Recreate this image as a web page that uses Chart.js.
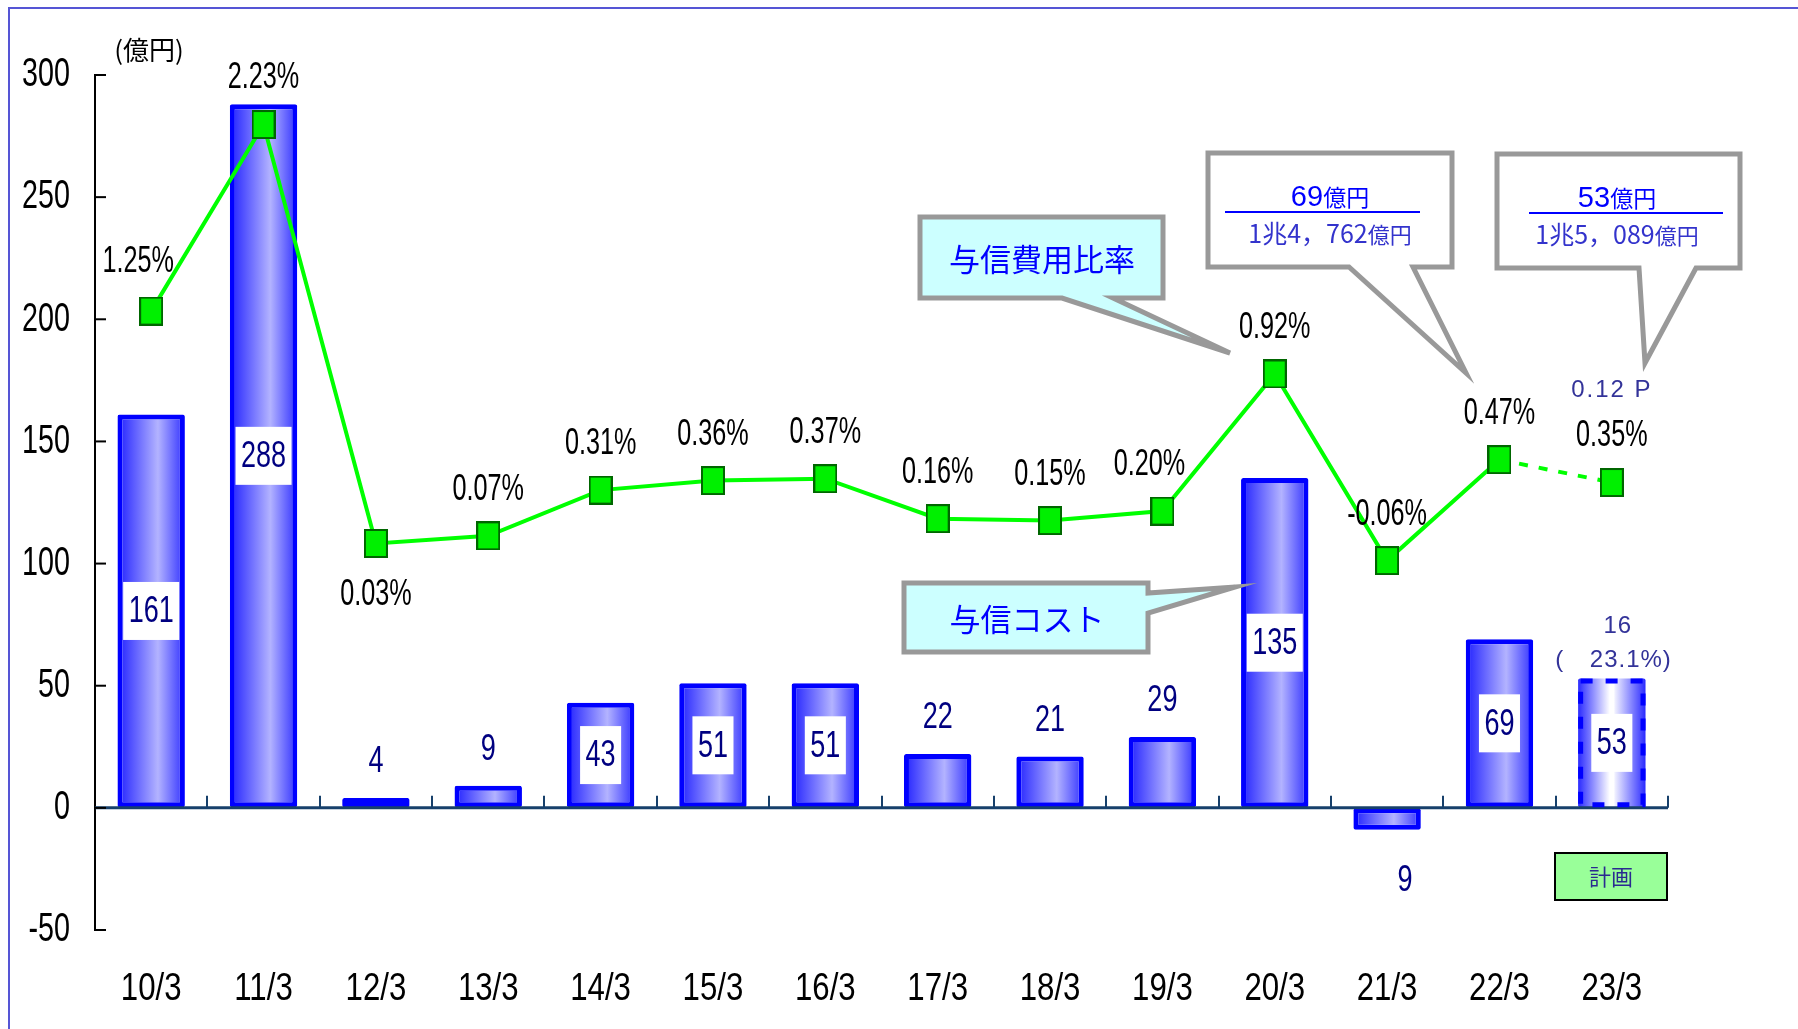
<!DOCTYPE html>
<html lang="ja">
<head>
<meta charset="utf-8">
<title>与信コスト・与信費用比率</title>
<script src="https://cdn.jsdelivr.net/npm/chart.js@4.4.1/dist/chart.umd.min.js"></script>
<style>
  html, body { margin: 0; padding: 0; background: #fff; }
  canvas { display: block; }
</style>
</head>
<body>
<canvas id="creditCostChart" width="1798" height="1029"></canvas>
<script>
// データ
const periods = ['10/3', '11/3', '12/3', '13/3', '14/3', '15/3', '16/3', '17/3', '18/3', '19/3', '20/3', '21/3', '22/3', '23/3'];
const creditCost = [161, 288, 4, 9, 43, 51, 51, 22, 21, 29, 135, -9, 69, 53];
const costLabels = ['161', '288', '4', '9', '43', '51', '51', '22', '21', '29', '135', '9', '69', '53'];
const costRatio = [1.25, 2.23, 0.03, 0.07, 0.31, 0.36, 0.37, 0.16, 0.15, 0.20, 0.92, -0.06, 0.47, 0.35];
const ratioLabels = ['1.25%', '2.23%', '0.03%', '0.07%', '0.31%', '0.36%', '0.37%', '0.16%', '0.15%', '0.20%', '0.92%', '-0.06%', '0.47%', '0.35%'];
const yTicks = [-50, 0, 50, 100, 150, 200, 250, 300];

// 吹き出しの文言
const unitLabel = '(億円)';
const ratioCallout = '与信費用比率';
const costCallout = '与信コスト';
const fraction2022 = ['69', '1兆4，762'];
const fraction2023 = ['53', '1兆5，089'];
const ratioDiff = '0.12 P';
const planShare = ['16', '23.1%)'];
const planLabel = '計画';

const planIndex = periods.length - 1;

const SANS = "'Liberation Sans', Arial, sans-serif";
const CJK = "'Noto Sans CJK JP', sans-serif";

// 細長い数字（横に詰める）
function narrowText(ctx, text, x, y, size, color, sx) {
    ctx.save();
    ctx.font = `${size}px ${SANS}`;
    ctx.fillStyle = color;
    ctx.textAlign = 'center';
    ctx.textBaseline = 'middle';
    ctx.translate(x, y);
    ctx.scale(sx, 1);
    ctx.fillText(text, 0, 0);
    ctx.restore();
}

// 文字列を複数フォントで並べて中央揃え
function drawRuns(ctx, runs, cx, cy, color) {
    ctx.save();
    let total = 0;
    runs.forEach(r => { ctx.font = r.font; r.w = ctx.measureText(r.text).width; total += r.w; });
    let x = cx - total / 2;
    ctx.fillStyle = color;
    ctx.textAlign = 'left';
    ctx.textBaseline = 'alphabetic';
    runs.forEach(r => {
        ctx.font = r.font;
        ctx.fillText(r.text, x, cy);
        x += r.w;
    });
    ctx.restore();
}

function calloutPath(ctx, pts, fill) {
    ctx.save();
    ctx.beginPath();
    ctx.moveTo(pts[0][0], pts[0][1]);
    for (let i = 1; i < pts.length; i++) ctx.lineTo(pts[i][0], pts[i][1]);
    ctx.closePath();
    ctx.fillStyle = fill;
    ctx.fill();
    ctx.lineWidth = 5;
    ctx.lineJoin = 'miter';
    ctx.strokeStyle = '#999999';
    ctx.stroke();
    ctx.restore();
}

// 棒のグラデーション
function barFill(c) {
    const chart = c.chart;
    const xs = chart.scales.x;
    if (!xs || !chart.chartArea) return '#8080ff';
    const cx = xs.getPixelForValue(c.dataIndex);
    const half = xs.width / periods.length * 0.6 / 2;
    const g = chart.ctx.createLinearGradient(cx - half, 0, cx + half, 0);
    if (c.dataIndex === planIndex) {
        g.addColorStop(0, '#2a2aff');
        g.addColorStop(0.47, '#ffffff');
        g.addColorStop(0.53, '#ffffff');
        g.addColorStop(0.55, '#eeeeff');
        g.addColorStop(1, '#2a2aff');
    } else {
        g.addColorStop(0, '#2020ff');
        g.addColorStop(0.6, '#b3b3ff');
        g.addColorStop(1, '#3030ff');
    }
    return g;
}

// 折れ線のマーカー
const marker = document.createElement('canvas');
marker.width = 24;
marker.height = 29;
(function () {
    const m = marker.getContext('2d');
    m.fillStyle = '#00f000';
    m.fillRect(1, 1, 22, 27);
    m.strokeStyle = '#006600';
    m.lineWidth = 2;
    m.strokeRect(1, 1, 22, 27);
})();

const tickSize = { x: 39, y: 41 };
const tickSqueeze = { x: 0.8, y: 0.7 };

const framePlugin = {
    id: 'frame',
    beforeDraw(chart) {
        const ctx = chart.ctx;
        ctx.save();
        ctx.fillStyle = '#fff';
        ctx.fillRect(0, 0, chart.width, chart.height);
        ctx.strokeStyle = '#5555d5';
        ctx.lineWidth = 2;
        ctx.beginPath();
        ctx.moveTo(9, chart.height);
        ctx.lineTo(9, 8);
        ctx.lineTo(chart.width, 8);
        ctx.stroke();
        ctx.restore();

        // 目盛ラベルを細字風に詰める
        ['x', 'y'].forEach(id => {
            const s = chart.scales[id];
            ctx.save();
            ctx.font = `${tickSize[id]}px ${SANS}`;
            s.getLabelItems(chart.chartArea).forEach(item => {
                item.options.maxWidth = ctx.measureText(item.label).width * tickSqueeze[id];
            });
            ctx.restore();
        });
    }
};

const decorPlugin = {
    id: 'decor',
    afterDatasetsDraw(chart) {
        const ctx = chart.ctx;
        const xs = chart.scales.x, ys = chart.scales.y;
        const area = chart.chartArea;
        const zeroY = ys.getPixelForValue(0);
        const step = xs.width / periods.length;

        // ゼロ線と区切り目盛
        ctx.save();
        ctx.strokeStyle = '#17406b';
        ctx.lineWidth = 3;
        ctx.beginPath();
        ctx.moveTo(area.left, zeroY);
        ctx.lineTo(area.right, zeroY);
        ctx.stroke();
        ctx.lineWidth = 2;
        for (let i = 1; i <= periods.length; i++) {
            const x = Math.round(area.left + step * i);
            ctx.beginPath();
            ctx.moveTo(x, zeroY);
            ctx.lineTo(x, zeroY - 12);
            ctx.stroke();
        }
        // 縦軸の目盛
        ctx.strokeStyle = '#000';
        ctx.lineWidth = 2;
        yTicks.forEach(v => {
            const y = ys.getPixelForValue(v);
            ctx.beginPath();
            ctx.moveTo(area.left, y);
            ctx.lineTo(area.left + 11, y);
            ctx.stroke();
        });
        ctx.restore();

        // 計画の棒は破線枠
        const bars = chart.getDatasetMeta(1).data;
        const pb = bars[planIndex];
        ctx.save();
        ctx.strokeStyle = '#0000ff';
        ctx.lineWidth = 5;
        ctx.setLineDash([12, 13]);
        ctx.strokeRect(pb.x - pb.width / 2 + 2.5, pb.y + 2.5, pb.width - 5, pb.base - pb.y - 5);
        ctx.restore();

        // 棒の数値
        bars.forEach((bar, i) => {
            const v = creditCost[i];
            const txt = costLabels[i];
            if (v >= 40) {
                const cy = (bar.y + bar.base) / 2;
                ctx.save();
                ctx.font = `37px ${SANS}`;
                const w = ctx.measureText(txt).width * 0.73 + 11;
                ctx.fillStyle = '#fff';
                ctx.fillRect(bar.x - w / 2, cy - 29, w, 58);
                ctx.restore();
                narrowText(ctx, txt, bar.x, cy + 1, 37, '#000080', 0.73);
            } else if (v >= 0) {
                narrowText(ctx, txt, bar.x, bar.y - 36, 37, '#000080', 0.73);
            } else {
                narrowText(ctx, txt, bar.x + 18, bar.y + 51, 37, '#000080', 0.73);
            }
        });

        // 比率の数値
        const pts = chart.getDatasetMeta(0).data;
        pts.forEach((p, i) => {
            let dx = 0, dy = -46;
            if (i === 2) dy = 52;
            if (i === 0) dy = -49;
            if (i === 0 || i === 9) dx = -13;
            narrowText(ctx, ratioLabels[i], p.x + dx, p.y + dy, 36, '#000', 0.7);
        });

        // 単位
        ctx.save();
        ctx.font = `26px ${CJK}`;
        ctx.fillStyle = '#000';
        ctx.textAlign = 'center';
        ctx.textBaseline = 'middle';
        ctx.fillText(unitLabel, 149, 50);
        ctx.restore();

        // 吹き出し：与信費用比率
        calloutPath(ctx, [[920, 217], [1163, 217], [1163, 298], [1113, 298], [1230, 353], [1062, 298], [920, 298]], '#ccffff');
        ctx.save();
        ctx.font = `31px ${CJK}`;
        ctx.fillStyle = '#0000ff';
        ctx.textAlign = 'center';
        ctx.textBaseline = 'middle';
        ctx.fillText(ratioCallout, 1042, 259);
        ctx.restore();

        // 吹き出し：与信コスト
        calloutPath(ctx, [[904, 583], [1148, 583], [1148, 593], [1235, 587], [1148, 613], [1148, 652], [904, 652]], '#ccffff');
        ctx.save();
        ctx.font = `31px ${CJK}`;
        ctx.fillStyle = '#0000ff';
        ctx.textAlign = 'center';
        ctx.textBaseline = 'middle';
        ctx.fillText(costCallout, 1027, 619);
        ctx.restore();

        // 吹き出し：分数
        const fractions = [
            { box: [1208, 153, 1452, 267], tail: [1349, 1413], tip: [1466, 373], cx: 1330, lx: [1225, 1420], f: fraction2022 },
            { box: [1497, 154, 1740, 268], tail: [1639, 1696], tip: [1645, 363], cx: 1617, lx: [1529, 1723], f: fraction2023 }
        ];
        fractions.forEach(o => {
            const [l, t, r, b] = o.box;
            calloutPath(ctx, [[l, t], [r, t], [r, b], [o.tail[1], b], o.tip, [o.tail[0], b], [l, b]], '#ffffff');
            drawRuns(ctx, [
                { text: o.f[0], font: `29px ${SANS}` },
                { text: '億円', font: `23px ${CJK}` }
            ], o.cx, t + 53, '#0000ff');
            ctx.save();
            ctx.strokeStyle = '#0000ff';
            ctx.lineWidth = 2;
            ctx.beginPath();
            ctx.moveTo(o.lx[0], t + 59);
            ctx.lineTo(o.lx[1], t + 59);
            ctx.stroke();
            ctx.restore();
            drawRuns(ctx, [
                { text: o.f[1], font: `25px ${CJK}` },
                { text: '億円', font: `22px ${CJK}` }
            ], o.cx, t + 90, '#3333cc');
        });

        // 差分・計画
        const px = xs.getPixelForValue(planIndex);
        ctx.save();
        ctx.fillStyle = '#333399';
        ctx.textAlign = 'center';
        ctx.textBaseline = 'middle';
        ctx.font = `24px ${SANS}`;
        ctx.letterSpacing = '2px';
        ctx.fillText(ratioDiff, px, 390);
        ctx.letterSpacing = '1px';
        ctx.fillText(planShare[0], px + 6, 626);
        ctx.fillText(planShare[1], px + 19, 660);
        ctx.fillText('(', px - 52, 660);
        ctx.letterSpacing = '0px';
        // 計画ラベル
        ctx.fillStyle = '#99ff99';
        ctx.fillRect(1555, 853, 112, 47);
        ctx.strokeStyle = '#000';
        ctx.lineWidth = 2;
        ctx.strokeRect(1555, 853, 112, 47);
        ctx.fillStyle = '#2a2a90';
        ctx.font = `22px ${CJK}`;
        ctx.fillText(planLabel, 1611, 877);
        ctx.restore();
    }
};

const ctx = document.getElementById('creditCostChart').getContext('2d');

new Chart(ctx, {
    data: {
        labels: periods,
        datasets: [
            {
                type: 'line',
                label: '与信費用比率',
                data: costRatio,
                yAxisID: 'y2',
                borderColor: '#00ff00',
                borderWidth: 4,
                tension: 0,
                pointStyle: marker,
                pointRadius: 12,
                segment: {
                    borderDash: s => s.p1DataIndex === planIndex ? [9, 11] : undefined
                }
            },
            {
                type: 'bar',
                label: '与信コスト',
                data: creditCost,
                yAxisID: 'y',
                backgroundColor: barFill,
                borderColor: '#0000ff',
                borderWidth: c => c.dataIndex === planIndex ? 0 : 5,
                borderSkipped: false,
                borderRadius: 2,
                barPercentage: 0.6,
                categoryPercentage: 1
            }
        ]
    },
    options: {
        responsive: false,
        animation: false,
        events: [],
        layout: {
            padding: { top: 75, right: 130, left: 0, bottom: 0 }
        },
        plugins: {
            legend: { display: false },
            tooltip: { enabled: false }
        },
        scales: {
            x: {
                grid: { display: false },
                border: { display: false },
                ticks: {
                    color: '#000',
                    font: { family: SANS, size: tickSize.x },
                    padding: 28,
                    maxRotation: 0,
                    autoSkip: false
                },
                afterFit: s => { s.height = 99; }
            },
            y: {
                position: 'left',
                min: -50,
                max: 300,
                afterBuildTicks: s => { s.ticks = yTicks.map(v => ({ value: v })); },
                ticks: {
                    color: '#000',
                    font: { family: SANS, size: tickSize.y },
                    padding: 25
                },
                grid: { drawOnChartArea: false, drawTicks: false },
                border: { color: '#000', width: 2 },
                afterFit: s => { s.width = 95; }
            },
            y2: {
                display: false,
                min: -2,
                max: 2.49
            }
        }
    },
    plugins: [framePlugin, decorPlugin]
});
</script>
</body>
</html>
